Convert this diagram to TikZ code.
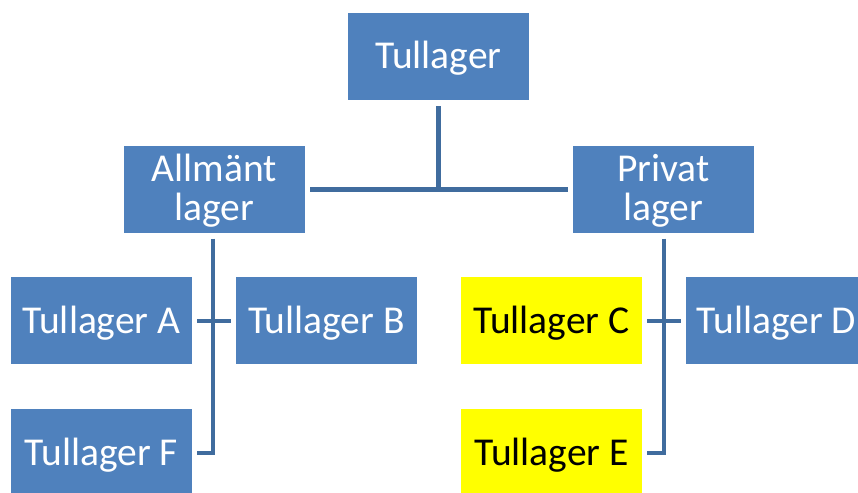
\documentclass[tikz,border=0pt]{standalone}
\usepackage{fontspec}
\setmainfont{Carlito}
\definecolor{boxblue}{RGB}{79,129,189}
\definecolor{linkblue}{RGB}{64,108,158}
\definecolor{hilite}{RGB}{255,255,0}
\begin{document}
\begin{tikzpicture}[x=1pt,y=-1pt,
  unit/.style={rectangle, fill=boxblue, text=white, minimum width=181pt, minimum height=87pt,
    inner sep=0pt, align=center, font=\fontsize{39.5}{37}\selectfont,
    text height=35pt, text depth=10pt},
  twoline/.style={unit, font=\fontsize{39.5}{39}\selectfont, text height=72pt, text depth=10pt},
  marked/.style={unit, fill=hilite, text=black},
  trunk/.style={draw=linkblue, line width=5pt},
  twig/.style={draw=linkblue, line width=4pt},
]
\useasboundingbox (0,0) rectangle (858,492);
\clip (0,0) rectangle (858,492);

\node[unit]    (top)  at (438.5,56.5) {Tullager};
\node[twoline] (allm) at (214.5,189) {Allmänt\\lager};
\node[twoline] (priv) at (663.5,189) {Privat\\lager};

\node[unit]   (A) at (101.5,320.5) {Tullager A};
\node[unit]   (B) at (326.5,320.5) {Tullager B};
\node[unit]   (F) at (101.5,452.5) {Tullager F};
\node[marked] (C) at (551.5,320.5) {Tullager C};
\node[unit]   (D) at (776.5,320.5) {Tullager D};
\node[marked] (E) at (551.5,452.5) {Tullager E};

% upper level
\draw[trunk, shorten <=6pt] (top.south) -- (top.south |- allm.east);
\draw[trunk, shorten <=5pt, shorten >=5pt] (allm.east) -- (priv.west);

% left branch
\draw[twig, shorten <=6pt, shorten >=5pt] ([xshift=-1.5pt]allm.south) -- ([xshift=-1.5pt]allm.south |- F.east) -- (F.east);
\draw[twig, shorten <=5pt, shorten >=5pt] (A) -- (B);

% right branch
\draw[twig, shorten <=6pt, shorten >=5pt] (priv.south) -- (priv.south |- E.east) -- (E.east);
\draw[twig, shorten <=5pt, shorten >=5pt] (C) -- (D);
\end{tikzpicture}
\end{document}
